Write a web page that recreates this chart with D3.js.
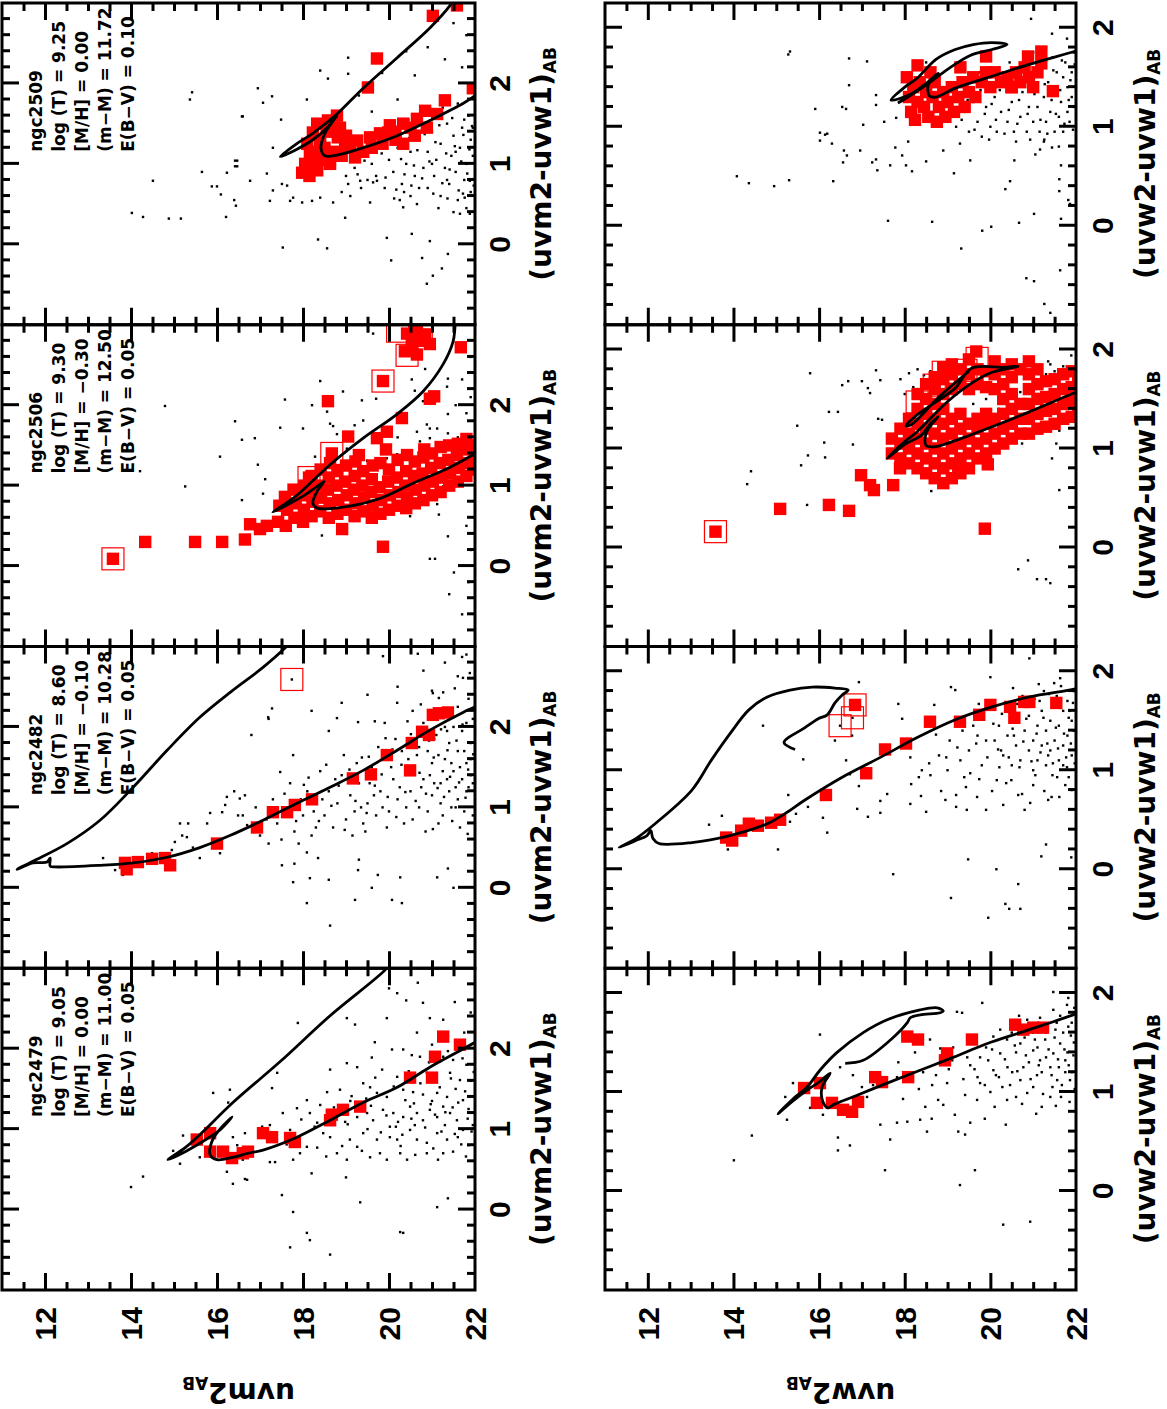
<!DOCTYPE html>
<html>
<head>
<meta charset="utf-8">
<script src="https://cdn.jsdelivr.net/npm/d3@7"></script>
<style>
  body { margin: 0; background: #fff; }
  svg { display: block; }
</style>
</head>
<body>
<div class="canvas"></div>
<script>
// cluster labels and fit parameters
const clusters = ["ngc2479", "ngc2482", "ngc2506", "ngc2509"];
const logT = ["9.05", "8.60", "9.30", "9.25"];
const metal = ["0.00", "\u22120.10", "\u22120.30", "0.00"];
const distMod = ["11.00", "10.28", "12.50", "11.72"];
const redden = ["0.05", "0.05", "0.05", "0.10"];

const magTicks = [12, 14, 16, 18, 20, 22];
const colTicks = [0, 1, 2];

// all points are [magnitude, colour]
// ---- uvm2 row ----
const iso_m2_2479 = [[22.1,2.12],[22.0,2.08],[20.95,1.77],[20.19,1.52],[19.40,1.33],[18.63,1.11],[17.86,0.90],[17.07,0.74],[16.72,0.70],[16.37,0.65],[16.0,0.62],[15.84,0.68],[15.9,0.87],[16.12,1.03],[16.35,1.15],[16.07,0.99],[15.77,0.88],[15.26,0.72],[14.86,0.62],[15.26,0.77],[15.60,0.93],[16.37,1.33],[17.47,1.84],[18.63,2.41],[19.91,2.98],[20.0,3.05]];
const memb_m2_2479 = [[15.53,0.87],[15.84,0.95],[15.84,0.72],[16.14,0.72],[16.35,0.64],[16.6,0.70],[16.72,0.72],[17.07,0.95],[17.28,0.90],[17.70,0.89],[17.81,0.84],[18.63,1.11],[18.67,1.18],[18.93,1.24],[19.33,1.28],[20.49,1.64],[21.0,1.64],[21.07,1.90],[21.26,2.15],[21.65,2.05]];
const open_m2_2479 = [];
const field_m2_2479 = [[20.67,2.82],[20.79,2.57],[20.19,2.69],[21.53,2.58],[21.26,2.36],[20.95,2.38],[19.95,2.38],[19.02,2.38],[17.88,2.32],[19.21,2.30],[20.65,2.20],[19.67,2.08],[20.07,1.99],[20.33,1.99],[20.53,1.92],[20.72,1.90],[19.60,1.89],[21.26,1.90],[21.49,1.86],[19.02,1.82],[19.26,1.77],[17.40,1.70],[18.63,1.74],[19.84,1.74],[20.19,1.65],[20.88,1.70],[21.42,1.70],[21.65,1.61],[17.28,1.51],[18.09,1.36],[18.56,1.46],[18.86,1.49],[19.40,1.57],[19.56,1.52],[19.72,1.45],[19.95,1.40],[20.33,1.49],[20.56,1.46],[20.79,1.43],[21.12,1.45],[21.35,1.40],[21.72,1.36],[17.53,1.20],[17.86,1.26],[18.16,1.20],[18.33,1.08],[18.79,1.15],[18.98,1.09],[19.26,1.15],[19.49,1.20],[19.63,1.11],[19.86,1.24],[20.02,1.03],[20.21,1.09],[20.33,1.15],[20.49,1.28],[20.65,1.20],[20.79,1.11],[20.95,1.24],[21.12,1.15],[21.26,1.28],[21.42,1.20],[21.58,1.11],[21.72,0.99],[17.05,1.03],[17.23,1.05],[17.70,0.99],[18.47,0.95],[18.63,0.90],[19.09,0.87],[19.40,0.95],[19.72,0.87],[20.02,0.90],[20.19,0.87],[20.49,0.99],[20.65,0.87],[20.88,0.83],[21.12,0.95],[21.35,0.87],[21.49,0.72],[17.23,0.59],[17.35,0.59],[17.77,0.62],[17.93,0.70],[18.09,0.78],[18.33,0.77],[18.79,0.70],[19.02,0.62],[19.26,0.78],[19.56,0.65],[19.79,0.70],[19.95,0.62],[20.26,0.70],[20.42,0.62],[20.88,0.70],[21.26,0.70],[17.51,0.18],[17.77,-0.03],[18.09,-0.29],[18.16,-0.38],[17.70,-0.47],[18.63,-0.56],[19.33,0.09],[20.26,-0.28],[20.33,-0.29],[21.12,0.03],[21.37,0.14],[16.70,0.37],[16.60,0.62],[15.91,1.45],[16.30,1.49],[16.26,1.33],[15.21,0.92],[14.98,0.73],[15.14,0.57],[15.60,0.65],[14.28,0.41],[14.00,0.28],[16.23,0.47],[16.37,0.32],[16.65,0.38],[16.37,0.90],[16.47,0.80],[16.65,0.95],[21.0,1.35],[21.55,1.5],[21.85,1.25],[21.9,1.6],[21.8,1.8],[21.95,1.05],[21.6,0.9],[20.6,1.05],[20.1,1.2],[19.5,1.0],[21.3,1.05],[21.85,0.8],[19.1,1.35],[18.4,1.3],[21.0,2.05],[21.75,2.2],[21.9,2.45],[20.4,2.6],[20.0,2.75],[18.2,0.45],[19.0,0.4],
  [19.13,1.41],[19.37,0.73],[19.58,1.29],[19.81,0.96],[19.94,1.17],[20.11,1.53],[20.27,0.79],[20.38,1.36],[20.52,1.13],[20.61,0.68],[20.73,1.57],[20.84,1.02],[20.97,1.31],[21.03,0.76],[21.18,1.52],[21.22,0.97],[21.31,1.21],[21.44,1.63],[21.53,0.94],[21.61,1.33],[21.68,0.81],[21.77,1.47],[21.83,1.13],[21.92,0.97],[21.97,1.71],[18.72,1.27],[18.91,0.79],[19.04,1.06],[18.27,1.03],[18.54,0.66],[17.96,1.12],[17.62,0.81],[20.46,1.72],[20.93,1.83],[21.37,1.97],[21.71,1.88],[19.68,1.64],[20.16,1.03],[21.07,1.18],[21.48,1.27],[21.88,1.41],[20.31,0.93],[19.47,1.38],[20.58,1.32],[21.14,0.62],[21.79,0.66]];

const iso_m2_2482 = [[22.1,2.28],[22.0,2.25],[21.72,2.18],[20.95,1.96],[20.19,1.71],[19.40,1.46],[18.63,1.25],[17.86,1.05],[17.07,0.84],[16.30,0.65],[15.60,0.50],[14.84,0.38],[14.05,0.31],[13.28,0.28],[12.23,0.26],[12.12,0.27],[12.12,0.37],[12.05,0.32],[11.72,0.31],[11.35,0.23],[11.72,0.33],[12.51,0.55],[13.28,0.84],[14.05,1.25],[14.84,1.71],[15.60,2.12],[16.33,2.44],[17.07,2.74],[17.58,2.98],[17.7,3.05]];
const memb_m2_2482 = [[13.86,0.31],[13.9,0.23],[14.16,0.32],[14.49,0.36],[14.79,0.37],[14.91,0.28],[16.0,0.55],[16.93,0.75],[17.30,0.94],[17.63,0.94],[17.81,1.03],[18.21,1.10],[19.16,1.36],[19.58,1.41],[19.95,1.65],[20.53,1.80],[20.49,1.46],[20.77,1.94],[20.93,1.90],[21.02,2.15],[21.16,2.17],[21.37,2.18]];
const open_m2_2482 = [[17.74,2.59]];
const field_m2_2482 = [[15.14,0.80],[15.33,0.80],[15.84,0.93],[16.12,0.94],[16.23,1.13],[16.19,1.03],[16.53,1.11],[16.65,1.15],[16.49,0.90],[16.70,0.78],[15.02,0.57],[15.60,0.37],[16.07,0.43],[13.35,0.37],[13.63,0.22],[13.81,0.16],[14.49,0.43],[14.95,0.47],[15.19,0.65],[15.30,0.63],[15.44,0.50],[15.77,0.80],[17.19,2.12],[17.28,2.23],[17.77,1.65],[17.47,1.44],[17.51,0.28],[18.09,-0.19],[18.16,0.12],[17.77,0.07],[18.63,-0.47],[19.21,-0.15],[19.28,0.22],[19.74,0.16],[20.07,-0.15],[20.26,0.13],[20.30,-0.19],[21.12,0.13],[21.37,0.24],[18.09,0.44],[18.35,0.37],[18.79,2.11],[19.28,2.06],[19.67,2.07],[20.19,2.30],[19.86,2.88],[20.67,2.91],[21.02,2.42],[21.26,2.43],[21.72,2.61],[21.60,2.63],[21.70,2.87],[17.74,2.59],[20.5,1.2],[20.6,1.5],[20.7,1.0],[20.8,1.35],[20.9,1.7],[21.0,1.15],[21.0,1.55],[21.1,1.9],[21.2,1.3],[21.2,1.05],[21.3,1.6],[21.4,1.8],[21.4,1.2],[21.5,1.45],[21.5,2.0],[21.6,1.1],[21.6,1.7],[21.7,1.35],[21.7,1.95],[21.8,1.55],[21.8,1.2],[21.9,1.8],[21.9,1.4],[21.95,2.1],[20.6,1.85],[20.8,2.05],[21.1,2.15],[21.3,2.0],[21.6,2.25],[21.85,2.35],[20.55,0.85],[20.9,0.95],[21.25,0.9],[21.55,1.0],[21.75,0.95],[20.65,1.65],[20.95,1.4],[21.15,1.65],[21.45,1.55],[21.65,1.5],[21.9,1.6],[20.75,1.25],[21.05,1.3],[21.35,1.35],[21.85,1.25],[21.45,1.0],[21.15,0.8],[20.85,0.7],[21.65,0.75],[21.95,0.9],[21.25,1.45],[21.55,1.25],[21.75,1.7],[21.95,1.3],[20.45,1.6],[20.7,1.75],[21.05,1.85],[21.35,1.95],[21.8,2.05],[18.5,0.9],[18.6,1.2],[18.7,0.75],[18.8,1.05],[18.9,1.4],[19.0,0.85],[19.1,1.15],[19.2,0.95],[19.3,1.3],[19.4,0.8],[19.5,1.05],[19.6,1.5],[19.7,0.9],[19.8,1.2],[19.9,1.6],[20.0,0.95],[20.1,1.35],[20.2,1.1],[20.3,1.7],[20.4,1.0],[20.45,1.45],[19.25,1.55],[19.75,1.75],[20.15,1.85],[18.95,1.65],[19.45,0.7],[19.95,0.75],[20.35,0.8],[18.4,1.45],[18.3,0.75],[19.15,0.65],[19.55,1.3],[19.85,1.0],[20.25,1.25],[18.75,1.35],[18.45,1.1],[19.65,1.15],[20.05,1.5],[19.35,1.0],[17.0,0.65],[17.2,0.55],[17.4,0.8],[17.5,0.6],[17.6,1.0],[17.8,0.7],[17.9,0.55],[18.0,0.9],[18.1,1.2],[18.2,0.65],[17.3,1.1],[17.7,1.3],[16.9,1.0],[16.6,0.9],[17.95,1.1],[18.25,0.95],[17.15,0.85],[16.8,1.9],[17.2,2.1],[18.2,2.2],[18.9,2.3],[19.5,2.4],[20.2,2.5],[20.8,2.7],[21.3,2.8],[21.8,2.9],[21.0,2.45],[17.8,0.3],[18.6,0.1],[19.3,0.35],[19.6,0.0],[21.5,0.0],[16.4,1.2],[18.6,1.95],[20.55,2.2],[19.9,2.05],
  [19.53,1.63],[19.67,1.27],[19.83,1.41],[19.97,1.13],[20.08,1.72],[20.17,0.88],[20.29,1.53],[20.38,1.19],[20.51,1.91],[20.62,1.08],[20.71,1.43],[20.86,1.17],[20.93,1.83],[21.04,1.62],[21.13,1.24],[21.21,1.97],[21.28,1.13],[21.36,1.71],[21.42,1.38],[21.49,2.13],[21.57,1.83],[21.63,1.31],[21.71,2.03],[21.78,1.12],[21.84,1.47],[21.91,2.21],[21.96,1.66],[18.13,1.37],[18.37,0.83],[18.54,1.53],[18.66,1.02],[18.83,1.27],[18.97,0.72],[19.08,1.47],[19.22,1.08],[19.37,1.62],[19.48,0.93],[17.57,1.17],[17.84,0.83],[18.02,1.28],[17.27,0.92],[20.74,2.28],[21.16,2.36],[21.53,2.48],[21.88,2.67],[20.43,2.07],[19.92,1.86],[21.02,0.73],[21.47,0.83],[21.83,0.67]];

const iso_m2_2506 = [[22.1,1.42],[21.95,1.38],[21.35,1.21],[20.56,1.03],[19.79,0.84],[19.02,0.74],[18.33,0.72],[18.23,0.78],[18.33,0.93],[18.49,1.05],[18.33,0.99],[18.0,0.87],[17.70,0.78],[17.30,0.67],[17.60,0.78],[17.86,0.88],[18.63,1.26],[19.40,1.59],[20.19,1.89],[20.79,2.17],[21.26,2.51],[21.49,2.79],[21.53,2.94],[21.54,3.05]];
const memb_m2_2506 = [[13.58,0.09],[14.33,0.30],[15.49,0.30],[16.12,0.30],[16.65,0.33],[16.77,0.52],[17.0,0.46],[17.16,0.50],[19.86,0.24],[18.91,0.46],[18.58,2.05],[19.86,2.30],[18.67,1.40],[18.14,1.10],[19.05,1.61],[19.30,1.38],[19.72,1.59],[19.95,1.67],[19.93,1.45],[20.30,1.84],[20.95,2.08],[21.05,2.11],[21.67,2.72],[20.42,2.89],[20.65,2.92],[20.84,2.88],[20.53,2.77],[20.77,2.80],[20.95,2.76],[20.37,2.67],[20.65,2.63],
  [17.42,0.55],[17.45,0.75],[17.6,0.5],[17.63,0.7],[17.58,0.86],[17.8,0.6],[17.83,0.78],[17.78,0.95],[18.0,0.55],[18.02,0.7],[17.98,0.88],[18.03,1.0],[18.2,0.62],[18.22,0.8],[18.18,0.95],[18.2,1.12],[18.4,0.68],[18.42,0.85],[18.38,1.0],[18.41,1.2],[18.6,0.6],[18.62,0.78],[18.58,0.95],[18.6,1.1],[18.63,1.28],[18.8,0.65],[18.82,0.82],[18.78,1.0],[18.8,1.18],[19.0,0.7],[19.02,0.88],[18.98,1.05],[19.0,1.25],[19.2,0.62],[19.22,0.78],[19.18,0.95],[19.2,1.12],[19.22,1.3],[19.4,0.68],[19.42,0.85],[19.38,1.0],[19.4,1.18],[19.6,0.6],[19.62,0.75],[19.58,0.92],[19.6,1.08],[19.62,1.25],[19.8,0.65],[19.82,0.82],[19.78,0.98],[19.8,1.28],[20.0,0.7],[20.02,0.88],[19.98,1.05],[20.0,1.2],[20.2,0.75],[20.22,0.92],[20.18,1.1],[20.2,1.32],[20.4,0.72],[20.42,0.85],[20.38,1.0],[20.4,1.18],[20.42,1.38],[20.6,0.78],[20.62,0.95],[20.58,1.12],[20.6,1.3],[20.8,0.82],[20.82,1.0],[20.78,1.15],[20.8,1.35],[20.82,1.45],[21.0,0.88],[21.02,1.05],[20.98,1.22],[21.0,1.4],[21.2,0.92],[21.22,1.1],[21.18,1.28],[21.2,1.48],[21.4,1.0],[21.42,1.15],[21.38,1.32],[21.4,1.5],[21.6,1.05],[21.62,1.22],[21.58,1.38],[21.6,1.52],[21.8,1.12],[21.82,1.28],[21.78,1.45],[21.8,1.58],[22.0,1.2],[22.0,1.35],[22.0,1.5]];
const open_m2_2506 = [[13.58,0.09],[19.86,2.30],[18.67,1.40],[18.14,1.10],[20.42,2.62],[20.2,2.92],[20.75,2.87]];
const field_m2_2506 = [[16.58,1.57],[16.88,1.59],[17.47,1.72],[17.58,2.07],[18.21,2.00],[18.56,1.92],[18.93,2.17],[19.37,2.06],[19.63,2.89],[19.70,2.08],[20.53,2.32],[20.60,2.18],[20.84,2.45],[20.79,2.05],[20.88,1.76],[20.95,1.71],[21.35,2.23],[21.37,2.33],[21.70,2.32],[21.37,1.89],[21.37,1.65],[21.42,1.55],[21.16,1.34],[21.26,0.99],[21.12,0.77],[21.16,0.64],[21.37,0.37],[20.95,0.09],[21.07,0.09],[21.51,-0.08],[21.40,-0.35],[20.49,0.62],[18.44,0.38],[16.58,0.82],[16.95,1.26],[17.12,1.08],[17.07,0.90],[18.0,1.71],[18.28,1.36],[18.63,1.77],[18.79,1.64],[18.70,1.74],[19.02,1.46],[19.40,1.81],[19.49,1.31],[19.63,1.30],[19.79,1.33],[19.95,1.34],[20.19,1.39],[20.33,1.43],[20.65,1.67],[20.72,1.55],[20.95,1.59],[21.12,1.71],[14.79,1.99],[14.21,1.18],[15.26,0.99],[16.07,1.36],[16.42,1.80],[21.8,1.9],[21.9,2.1],[21.6,1.6],[21.8,0.5],[21.9,0.2],[21.7,-0.6],[21.85,-0.2],[20.2,1.6],[19.2,1.75],[18.4,2.3],[21.55,2.0],[21.9,2.6]];

const iso_m2_2509 = [[22.1,1.9],[22.0,1.85],[21.72,1.75],[20.95,1.54],[20.19,1.35],[19.40,1.20],[18.79,1.11],[18.51,1.10],[18.42,1.19],[18.51,1.38],[18.79,1.60],[18.56,1.45],[18.23,1.30],[17.85,1.18],[17.47,1.09],[17.85,1.25],[18.23,1.38],[18.79,1.62],[19.40,1.94],[20.19,2.32],[20.95,2.69],[21.42,2.97],[21.5,3.05]];
const memb_m2_2509 = [[17.98,0.89],[18.05,1.00],[18.16,1.13],[18.33,1.00],[18.23,1.39],[18.33,1.50],[18.58,1.54],[18.79,1.60],[18.86,1.45],[18.81,1.33],[18.63,1.00],[18.33,0.92],[18.98,1.23],[19.21,1.08],[19.26,1.29],[19.56,1.33],[19.79,1.38],[19.98,1.39],[20.02,1.48],[20.33,1.50],[20.33,1.25],[20.65,1.56],[20.84,1.66],[20.88,1.45],[21.12,1.62],[21.30,1.79],[19.51,1.95],[19.72,2.31],[21.02,2.84],[21.58,2.97],[21.95,1.94],[18.5,1.2],[18.7,1.15],[18.9,1.1],[19.1,1.2],[19.4,1.15],[19.6,1.2],[19.0,1.35],[18.45,1.05],[18.15,0.85],[18.4,1.3],[19.85,1.25],[20.15,1.4],[20.5,1.45],[20.6,1.35],[20.15,1.3],[18.7,1.45],[18.55,1.4],[18.1,1.25],[18.3,1.15]];
const open_m2_2509 = [];
const field_m2_2509 = [[15.42,1.89],[15.37,1.80],[16.58,1.59],[14.51,0.79],[14.02,0.39],[14.28,0.34],[14.88,0.32],[15.16,0.32],[15.65,0.90],[16.23,0.89],[16.47,1.04],[16.42,0.97],[15.88,0.72],[16.0,0.72],[16.09,0.62],[16.40,0.55],[16.44,0.48],[16.21,0.34],[16.95,1.94],[17.28,1.84],[17.07,1.76],[16.60,1.59],[17.49,1.55],[18.09,1.80],[18.40,2.16],[18.58,2.06],[19.05,2.32],[19.05,2.12],[19.84,2.13],[17.30,1.20],[16.42,1.04],[16.47,0.97],[16.77,0.79],[17.16,0.88],[17.30,0.67],[17.23,0.54],[17.51,0.75],[17.63,0.73],[17.70,0.54],[17.77,0.58],[17.98,0.52],[18.21,0.54],[18.40,0.58],[18.70,0.52],[18.98,0.33],[17.53,-0.04],[18.35,0.06],[18.56,-0.05],[19.05,0.75],[19.33,0.79],[19.56,0.52],[19.72,0.79],[19.95,0.08],[20.05,-0.20],[20.33,0.46],[20.53,0.13],[20.77,-0.17],[20.95,0.04],[21.02,-0.39],[20.88,-0.49],[21.23,-0.30],[21.37,-0.12],[21.65,0.38],[21.88,0.38],[21.72,0.63],[21.88,0.79],[19.6,1.0],[19.7,0.85],[19.8,1.2],[19.9,0.7],[20.0,1.05],[20.1,0.9],[20.2,1.2],[20.3,0.75],[20.4,1.0],[20.5,0.6],[20.5,1.15],[20.6,0.85],[20.7,1.3],[20.8,0.95],[20.9,0.7],[20.9,1.15],[21.0,1.4],[21.05,0.85],[21.1,1.05],[21.2,0.6],[21.2,1.25],[21.3,0.95],[21.35,1.5],[21.4,0.75],[21.45,1.1],[21.5,1.35],[21.55,0.9],[21.6,0.55],[21.65,1.2],[21.7,1.45],[21.75,0.8],[21.8,1.0],[21.85,1.6],[21.9,0.65],[21.9,1.3],[21.95,1.1],[19.0,0.85],[19.2,0.95],[19.35,0.7],[19.5,0.8],[18.9,0.65],[19.1,0.6],[20.25,0.55],[20.65,0.5],[21.15,0.45],[21.5,0.4],[21.8,0.45],[20.0,1.4],[20.45,1.55],[20.85,1.6],[21.25,1.7],[21.6,1.75],[21.9,1.9],[21.7,2.2],[21.3,2.3],[20.9,2.45],[21.8,2.6],[21.5,2.75],[22.0,2.4],[20.6,2.1],[20.2,1.8],[19.6,1.65],[19.3,1.85],[20.4,2.4],[21.95,1.45],[21.75,1.55],[21.55,1.15],[21.35,0.8],[21.0,1.0],[20.7,0.7],[20.35,0.65],
  [19.83,1.13],[19.92,0.83],[20.07,1.27],[20.17,0.68],[20.28,1.06],[20.36,0.87],[20.47,1.32],[20.58,0.98],[20.66,1.17],[20.77,0.82],[20.83,1.37],[20.94,1.03],[21.03,0.63],[21.08,1.27],[21.17,1.48],[21.24,0.76],[21.33,1.13],[21.41,0.93],[21.47,1.57],[21.53,1.22],[21.62,0.67],[21.68,1.03],[21.73,1.36],[21.82,0.88],[21.87,1.18],[21.93,1.47],[21.97,0.73],[20.12,0.57],[20.52,0.73],[21.36,0.57],[21.76,0.58],[19.43,1.04],[19.63,0.77],[19.27,0.87]];

// ---- uvw2 row ----
const iso_w2_2479 = [[22.1,1.81],[22.0,1.79],[21.47,1.71],[20.70,1.60],[19.93,1.49],[19.13,1.35],[18.36,1.22],[17.59,1.09],[16.79,0.95],[16.33,0.87],[16.21,0.84],[16.09,0.90],[16.07,1.05],[16.26,1.19],[16.0,1.10],[15.72,1.02],[15.39,0.91],[15.04,0.78],[15.39,0.93],[15.72,1.05],[16.02,1.22],[16.42,1.40],[17.03,1.60],[17.59,1.73],[18.36,1.83],[18.76,1.85],[18.90,1.82],[18.83,1.80],[18.36,1.78],[18.13,1.75],[18.06,1.70],[17.73,1.55],[17.03,1.32],[16.61,1.29]];
const memb_w2_2479 = [[15.65,1.04],[15.95,0.89],[16.02,1.09],[16.30,0.89],[16.56,0.82],[16.77,0.80],[16.91,0.90],[17.31,1.15],[17.47,1.10],[18.08,1.15],[18.06,1.56],[18.31,1.53],[18.99,1.39],[18.94,1.32],[19.57,1.53],[20.58,1.68],[20.77,1.63],[21.0,1.65],[21.23,1.65]];
const open_w2_2479 = [];
const field_w2_2479 = [[16.44,0.54],[16.44,0.41],[16.72,0.46],[17.43,0.67],[17.66,0.52],[17.82,0.69],[17.54,0.21],[18.06,0.70],[18.36,0.72],[18.52,0.60],[18.90,0.87],[19.25,0.60],[19.41,0.57],[19.29,0.06],[19.64,0.21],[20.30,-0.34],[20.93,-0.31],[19.53,0.69],[19.81,1.90],[19.22,1.81],[19.34,1.80],[21.47,2.01],[21.82,1.95],[21.79,1.88],[16.49,1.25],[16.79,1.17],[17.00,1.05],[17.12,0.95],[17.26,1.07],[17.82,1.15],[17.85,1.30],[18.24,1.40],[18.43,1.20],[18.48,0.85],[18.64,1.07],[18.78,0.92],[18.99,1.09],[19.11,1.32],[19.13,1.45],[19.53,1.27],[19.41,0.97],[19.69,0.92],[19.76,1.09],[19.95,1.32],[20.07,1.22],[20.23,1.39],[20.28,1.05],[20.39,0.92],[20.51,1.20],[20.70,1.12],[20.77,1.25],[20.86,0.99],[21.0,1.42],[21.09,1.17],[21.16,1.32],[21.28,1.53],[21.40,1.25],[21.47,1.39],[21.56,1.12],[21.63,1.49],[21.75,1.32],[21.82,1.66],[21.86,1.12],[20.70,1.49],[20.39,1.53],[20.07,1.56],[19.76,1.35],[19.46,1.35],[18.83,1.44],[18.59,1.53],[20.53,1.66],[20.86,1.73],[21.16,1.75],[21.47,1.83],[21.0,1.60],[21.33,1.61],[21.1,1.45],[21.2,1.2],[21.3,1.35],[21.5,1.55],[21.6,1.25],[21.7,1.6],[21.8,1.4],[21.9,1.7],[21.45,1.05],[21.65,0.95],[21.9,1.2],[20.9,1.3],[20.6,1.4],[20.4,1.25],[20.2,1.15],[20.0,1.0],[21.0,1.05],[21.3,1.6],[21.55,1.7],[21.95,1.5],[20.8,1.55],[20.5,1.6],[21.75,1.2],[21.4,0.95],[20.6,0.95],[20.1,0.85],[19.7,1.15],[19.9,1.45],[21.85,0.9],[21.2,0.85],[16.02,1.58],[15.39,1.09],[15.21,0.95],[15.25,0.72],[15.79,0.84],[16.09,0.77],[14.43,0.56],[14.01,0.31],
  [19.63,1.23],[19.87,1.07],[20.04,1.43],[20.13,1.17],[20.34,1.33],[20.46,1.07],[20.57,1.47],[20.63,1.21],[20.74,0.88],[20.83,1.37],[20.94,1.13],[21.04,1.53],[21.13,1.27],[21.23,0.98],[21.36,1.43],[21.43,1.17],[21.52,1.63],[21.58,1.33],[21.67,1.07],[21.73,1.43],[21.83,1.27],[21.88,1.57],[21.94,1.37],[21.97,1.03],[20.23,1.63],[20.67,1.77],[21.12,1.68],[21.63,1.77],[21.96,1.85],[19.37,1.13],[19.03,1.23],[18.73,1.17],[18.33,1.03],[17.96,0.93],[18.63,0.73],[19.17,0.77],[19.87,0.73],[20.36,0.67],[21.07,0.78],[21.53,0.86]];

const iso_w2_2482 = [[22.1,1.84],[21.96,1.82],[20.91,1.74],[20.04,1.64],[19.18,1.51],[18.29,1.33],[17.43,1.13],[16.54,0.93],[15.67,0.70],[15.23,0.57],[14.79,0.46],[13.92,0.34],[13.03,0.27],[12.26,0.26],[12.12,0.31],[12.07,0.39],[11.98,0.34],[11.72,0.29],[11.33,0.22],[11.72,0.31],[12.17,0.46],[13.03,0.80],[13.48,1.10],[13.92,1.37],[14.36,1.61],[14.79,1.74],[15.32,1.81],[15.84,1.84],[16.37,1.83],[16.68,1.81],[16.54,1.76],[16.37,1.68],[16.19,1.56],[15.98,1.52],[15.67,1.43],[15.18,1.28],[15.44,1.21]];
const memb_w2_2482 = [[13.83,0.32],[13.97,0.29],[14.18,0.39],[14.36,0.46],[14.57,0.44],[14.88,0.47],[15.09,0.50],[16.16,0.75],[17.10,0.97],[17.54,1.21],[18.03,1.27],[18.59,1.49],[19.29,1.49],[19.74,1.56],[20.0,1.66],[20.46,1.64],[20.56,1.53],[20.79,1.69],[20.91,1.69],[21.54,1.68],[16.84,1.66]];
const open_w2_2482 = [[16.84,1.66],[16.78,1.53],[16.49,1.45]];
const field_w2_2482 = [[14.69,1.45],[15.63,1.11],[16.37,1.30],[16.93,1.89],[16.77,1.35],[13.43,0.45],[13.73,0.54],[13.87,0.20],[15.04,0.20],[15.32,0.48],[15.74,0.63],[16.09,0.52],[16.19,0.37],[15.28,0.75],[15.46,0.56],[16.63,1.10],[16.72,0.96],[16.93,0.84],[16.89,0.61],[17.14,0.53],[17.43,0.69],[17.43,0.57],[17.59,0.76],[17.73,-0.05],[17.85,1.67],[17.94,1.52],[18.13,1.13],[18.15,0.86],[18.13,0.66],[18.38,0.74],[18.50,0.58],[18.69,1.66],[18.73,1.36],[19.08,1.84],[19.18,1.81],[19.08,-0.29],[19.48,0.10],[20.14,0.0],[19.95,-0.49],[20.35,-0.35],[20.65,-0.15],[20.44,-0.40],[20.70,-0.40],[21.30,0.25],[21.19,0.13],[21.89,0.12],[20.0,1.94],[20.91,2.13],[21.49,1.88],[19.20,0.63],[18.85,0.79],[19.39,0.93],[19.74,0.91],[19.69,0.73],[20.04,0.79],[20.21,1.03],[20.49,0.90],[20.74,0.76],[21.0,1.0],[21.26,0.79],[21.56,0.93],[21.61,0.73],[21.79,1.03],[16.49,1.45],[16.78,1.53],[20.1,1.3],[20.2,1.45],[20.3,1.15],[20.4,1.35],[20.5,1.05],[20.6,1.25],[20.6,1.5],[20.7,1.1],[20.8,1.4],[20.9,1.2],[20.9,1.55],[21.0,1.3],[21.1,1.1],[21.1,1.45],[21.2,1.25],[21.2,1.6],[21.3,1.05],[21.3,1.4],[21.4,1.2],[21.4,1.5],[21.5,1.3],[21.5,1.65],[21.6,1.1],[21.6,1.45],[21.7,1.25],[21.7,1.6],[21.8,1.35],[21.8,1.7],[21.9,1.15],[21.9,1.5],[21.95,1.8],[20.35,1.6],[20.75,1.75],[21.25,1.8],[21.65,1.85],[19.5,1.2],[19.6,1.45],[19.8,1.05],[19.9,1.3],[19.3,1.1],[19.0,1.0],[18.8,1.15],[18.6,0.95],[19.2,0.75],[19.45,0.6],[19.9,0.6],[20.3,0.65],[20.8,0.6],[21.0,0.85],[21.45,0.95],[21.75,0.85],[21.15,1.7],[21.55,1.75],[21.85,1.6],[21.35,1.15],[21.05,0.95],[21.7,1.05],[21.95,1.4],[20.55,1.35],[20.25,1.2],[19.7,1.35],[19.35,1.4],[19.05,1.3],[18.4,1.0],[18.95,0.7],[20.15,0.9],[20.65,0.75],[21.35,0.7],[21.9,0.8],
  [20.07,1.47],[20.18,1.21],[20.27,1.57],[20.43,1.13],[20.52,1.42],[20.63,1.67],[20.68,1.03],[20.77,1.29],[20.84,1.52],[20.96,1.09],[21.03,1.72],[21.08,1.37],[21.17,1.18],[21.24,1.53],[21.33,1.27],[21.37,1.77],[21.46,1.07],[21.53,1.43],[21.58,1.22],[21.64,1.63],[21.72,1.37],[21.77,1.13],[21.83,1.53],[21.88,1.27],[21.93,1.68],[21.97,1.07],[19.53,0.97],[19.67,1.27],[19.83,1.53],[19.93,1.13],[19.23,1.23],[18.97,1.13],[18.57,1.07],[18.33,0.93],[19.43,0.83],[20.37,0.87],[20.93,0.67],[21.43,0.73],[21.83,0.93],[19.73,1.67],[20.53,1.83],[21.13,1.87],[21.63,1.93]];

const iso_w2_2506 = [[22.1,1.58],[21.96,1.56],[20.91,1.37],[20.04,1.22],[19.18,1.08],[18.73,1.02],[18.50,1.03],[18.48,1.12],[18.55,1.20],[18.78,1.32],[18.6,1.25],[18.38,1.13],[18.03,1.05],[17.59,0.90],[17.95,1.05],[18.29,1.17],[18.99,1.47],[19.60,1.67],[20.04,1.77],[20.65,1.83],[20.3,1.82],[19.56,1.81],[19.18,1.61],[18.73,1.47],[18.29,1.34],[18.03,1.23],[18.15,1.24],[18.8,1.52],[19.5,1.78]];
const memb_w2_2506 = [[13.58,0.16],[15.09,0.39],[16.23,0.43],[16.70,0.37],[16.98,0.73],[17.19,0.63],[17.28,0.58],[17.73,0.63],[17.89,0.80],[19.87,0.19],[19.94,0.84],[19.25,0.78],[19.67,1.98],
  [17.7,0.95],[17.7,1.1],[17.9,0.9],[17.9,1.05],[17.9,1.2],[18.1,0.85],[18.1,1.0],[18.1,1.15],[18.1,1.3],[18.3,0.8],[18.3,0.95],[18.3,1.1],[18.3,1.25],[18.3,1.4],[18.3,1.55],[18.5,0.75],[18.5,0.9],[18.5,1.05],[18.5,1.2],[18.5,1.35],[18.5,1.5],[18.5,1.65],[18.7,0.7],[18.7,0.85],[18.7,1.0],[18.7,1.15],[18.7,1.3],[18.7,1.45],[18.7,1.6],[18.7,1.72],[18.9,0.65],[18.9,0.8],[18.9,0.95],[18.9,1.1],[18.9,1.25],[18.9,1.4],[18.9,1.55],[18.9,1.7],[18.9,1.82],[19.1,0.7],[19.1,0.85],[19.1,1.0],[19.1,1.15],[19.1,1.3],[19.1,1.6],[19.1,1.75],[19.1,1.85],[19.3,0.75],[19.3,0.9],[19.3,1.05],[19.3,1.2],[19.3,1.35],[19.3,1.65],[19.3,1.8],[19.5,0.8],[19.5,0.95],[19.5,1.1],[19.5,1.25],[19.5,1.6],[19.5,1.75],[19.5,1.9],[19.7,0.9],[19.7,1.05],[19.7,1.2],[19.7,1.3],[19.7,1.65],[19.7,1.8],[19.9,0.95],[19.9,1.1],[19.9,1.25],[19.9,1.35],[19.9,1.62],[19.9,1.78],[20.1,1.0],[20.1,1.15],[20.1,1.3],[20.1,1.6],[20.1,1.75],[20.1,1.88],[20.3,1.05],[20.3,1.2],[20.3,1.35],[20.3,1.5],[20.3,1.65],[20.3,1.8],[20.5,1.1],[20.5,1.25],[20.5,1.4],[20.5,1.55],[20.5,1.72],[20.5,1.85],[20.7,1.15],[20.7,1.3],[20.7,1.45],[20.7,1.8],[20.9,1.15],[20.9,1.3],[20.9,1.45],[20.9,1.6],[20.9,1.75],[20.9,1.88],[21.1,1.2],[21.1,1.35],[21.1,1.5],[21.1,1.65],[21.1,1.8],[21.3,1.22],[21.3,1.38],[21.3,1.52],[21.3,1.68],[21.5,1.25],[21.5,1.4],[21.5,1.55],[21.5,1.7],[21.7,1.3],[21.7,1.45],[21.7,1.6],[21.7,1.75],[21.9,1.32],[21.9,1.48],[21.9,1.62],[21.9,1.78],[22.05,1.4],[22.05,1.55],[22.05,1.7]];
const open_w2_2506 = [[13.58,0.16],[18.29,1.47],[18.69,1.64],[18.90,1.77],[19.43,1.79],[19.69,1.91]];
const field_w2_2506 = [[15.79,1.76],[16.54,1.64],[16.68,1.68],[17.0,1.68],[17.33,1.79],[17.43,1.69],[17.19,1.56],[17.14,1.61],[16.23,1.37],[16.44,1.37],[15.49,1.23],[17.38,1.30],[17.47,1.29],[16.12,1.06],[15.74,0.93],[16.14,0.91],[16.79,1.04],[15.58,0.83],[14.41,0.77],[14.32,0.64],[15.72,0.43],[18.62,0.57],[19.08,0.71],[19.20,0.71],[20.65,-0.22],[20.88,-0.13],[21.09,-0.32],[21.30,-0.32],[21.40,-0.36],[21.61,0.58],[21.44,0.90],[21.54,1.05],[21.61,1.18],[21.89,1.94],[20.74,1.05],[20.14,0.97],[18.1,1.76],[18.3,1.8],[18.45,1.74],[18.6,1.78],[18.75,1.72],[17.9,1.7],[18.0,1.55],[18.2,1.62],[21.2,1.82],[21.3,1.75],[21.4,1.85],[21.5,1.78],[21.6,1.7],[21.7,1.83],[21.35,1.88],[19.6,1.45],[19.9,1.5],[20.2,1.4],[20.3,1.35],[20.9,1.25],[20.4,1.6],[21.1,1.55],[20.70,1.57]];

const iso_w2_2509 = [[22.1,1.78],[21.96,1.76],[20.91,1.63],[20.04,1.51],[19.18,1.39],[18.73,1.30],[18.58,1.31],[18.55,1.42],[18.78,1.54],[18.45,1.42],[18.1,1.32],[17.68,1.27],[18.0,1.40],[18.29,1.49],[18.73,1.68],[19.18,1.78],[19.60,1.83],[20.04,1.85],[20.39,1.83],[20.04,1.78],[19.53,1.72],[19.0,1.58],[18.5,1.42],[18.0,1.28],[17.84,1.24]];
const memb_w2_2509 = [[18.05,1.5],[18.1,1.3],[18.15,1.15],[18.2,1.4],[18.24,1.07],[18.3,1.25],[18.35,1.45],[18.45,1.2],[18.5,1.35],[18.55,1.1],[18.65,1.3],[18.7,1.45],[18.75,1.05],[18.8,1.2],[18.9,1.35],[18.95,1.1],[19.0,1.25],[19.1,1.4],[19.15,1.15],[19.25,1.3],[19.35,1.45],[19.4,1.2],[19.5,1.35],[19.6,1.5],[19.65,1.3],[19.8,1.45],[19.9,1.55],[19.9,1.71],[20.0,1.4],[20.1,1.55],[20.25,1.45],[20.4,1.5],[20.5,1.4],[20.6,1.55],[20.7,1.45],[20.8,1.6],[20.9,1.5],[20.88,1.71],[21.0,1.4],[21.1,1.55],[21.19,1.64],[21.19,1.76],[20.49,1.40],[21.46,1.36],[18.6,1.55],[18.3,1.62],[19.3,1.6]];
const open_w2_2509 = [];
const field_w2_2509 = [[15.28,1.73],[15.32,1.76],[16.70,1.69],[17.12,1.66],[16.70,1.42],[16.54,1.20],[16.63,1.18],[15.91,1.18],[17.33,1.32],[17.33,1.22],[17.03,1.02],[17.52,1.05],[17.80,1.09],[16.19,0.93],[16.02,0.86],[16.30,0.83],[16.58,0.76],[16.65,0.71],[16.96,0.76],[16.56,0.64],[17.24,0.64],[17.33,0.67],[17.36,0.56],[17.66,0.61],[17.78,0.79],[17.94,0.71],[18.03,0.61],[18.17,0.55],[18.08,0.85],[18.50,0.65],[18.90,0.76],[19.15,0.53],[19.53,0.66],[19.29,0.83],[14.08,0.50],[14.36,0.43],[14.95,0.40],[15.30,0.46],[16.33,0.45],[16.02,0.94],[16.14,0.92],[17.61,0.05],[18.64,0.04],[19.81,-0.05],[20.02,-0.01],[20.67,0.03],[19.32,-0.23],[20.35,0.37],[20.46,0.45],[20.56,0.66],[21.02,0.12],[20.84,-0.53],[21.02,-0.56],[21.26,-0.79],[21.40,-0.88],[21.63,-0.45],[21.65,0.07],[21.61,0.35],[21.61,0.47],[21.65,0.61],[21.82,0.26],[21.86,0.22],[20.95,2.09],[21.44,1.94],[21.79,1.89],[21.26,0.87],[21.44,0.79],[21.05,0.72],[21.16,0.77],[19.2,1.0],[19.4,1.15],[19.5,0.95],[19.6,1.25],[19.7,1.05],[19.8,0.9],[19.9,1.2],[20.0,1.0],[20.1,1.3],[20.15,0.95],[20.25,1.15],[20.3,1.45],[20.4,1.05],[20.5,1.25],[20.55,0.95],[20.6,1.5],[20.7,1.1],[20.75,1.35],[20.85,0.95],[20.9,1.2],[20.95,1.55],[21.0,1.05],[21.05,1.4],[21.1,1.2],[21.15,0.95],[21.2,1.6],[21.25,1.3],[21.3,1.05],[21.35,1.45],[21.4,1.15],[21.45,1.7],[21.5,0.95],[21.5,1.35],[21.55,1.55],[21.6,1.1],[21.65,1.25],[21.7,1.5],[21.7,0.95],[21.75,1.65],[21.8,1.15],[21.8,1.4],[21.85,1.05],[21.9,1.3],[21.9,1.55],[21.95,1.75],[21.95,1.2],[20.2,1.6],[20.45,1.65],[20.8,1.7],[21.0,1.75],[21.3,1.8],[20.6,0.85],[21.25,0.85],[21.6,0.8],[19.9,1.45],[19.75,1.55],[19.55,1.45],[19.35,1.35],[19.1,1.3],[18.9,1.4],[18.7,1.55],[18.5,1.65],[18.3,1.6],[18.2,1.45],[18.4,1.35],
  [20.03,1.23],[20.13,1.07],[20.22,1.37],[20.33,0.93],[20.43,1.17],[20.53,1.53],[20.63,1.03],[20.67,1.27],[20.78,1.47],[20.87,1.13],[20.93,0.87],[21.03,1.33],[21.13,1.63],[21.17,1.07],[21.27,1.43],[21.33,0.93],[21.43,1.27],[21.47,1.57],[21.53,1.13],[21.63,1.37],[21.67,1.67],[21.73,1.03],[21.83,1.27],[21.87,1.47],[21.93,0.97],[21.97,1.63],[19.33,1.07],[19.47,1.27],[19.63,0.97],[19.77,1.37],[19.87,1.13],[19.97,0.87]];

// ---- layout (drawn in the unrotated frame, then turned a quarter turn) ----
const FW = 1409;            // unrotated width  (= page height)
const colLeft = 119, colW = 321.75;
const rows = [
  { band: "uvm2", colDomain: [-1, 3], top: 2, bottom: 475, labelY: 510, titleY: 551, annotate: true,
    panels: [
      { iso: iso_m2_2479, memb: memb_m2_2479, open: open_m2_2479, field: field_m2_2479 },
      { iso: iso_m2_2482, memb: memb_m2_2482, open: open_m2_2482, field: field_m2_2482 },
      { iso: iso_m2_2506, memb: memb_m2_2506, open: open_m2_2506, field: field_m2_2506 },
      { iso: iso_m2_2509, memb: memb_m2_2509, open: open_m2_2509, field: field_m2_2509 } ] },
  { band: "uvw2", colDomain: [-1, 2.25], top: 605, bottom: 1076, labelY: 1113, titleY: 1155, annotate: false,
    panels: [
      { iso: iso_w2_2479, memb: memb_w2_2479, open: open_w2_2479, field: field_w2_2479 },
      { iso: iso_w2_2482, memb: memb_w2_2482, open: open_w2_2482, field: field_w2_2482 },
      { iso: iso_w2_2506, memb: memb_w2_2506, open: open_w2_2506, field: field_w2_2506 },
      { iso: iso_w2_2509, memb: memb_w2_2509, open: open_w2_2509, field: field_w2_2509 } ] }
];

const labelFont = "'Liberation Sans', Arial, Helvetica, sans-serif";
const titleFont = "'DejaVu Sans', 'Liberation Sans', sans-serif";

const svg = d3.select('.canvas')
  .append('svg')
  .attr('width', 1167)
  .attr('height', 1409);
svg.append('rect').attr('width', 1167).attr('height', 1409).attr('fill', '#fff');

const fig = svg.append('g').attr('transform', `translate(0,${FW}) rotate(-90)`);
const defs = svg.append('defs');

function styleTicks(g) {
  g.select('.domain').remove();
  g.selectAll('.tick line').attr('stroke', '#000').attr('stroke-width', 3);
}

rows.forEach((row, r) => {
  const y = d3.scaleLinear().domain([11, 22]).range([row.top, row.bottom]);

  const nLo = Math.round(row.colDomain[0] * 5) + 1, nHi = Math.round(row.colDomain[1] * 5);
  const colMinor = d3.range(nLo, nHi).filter(i => i % 5 !== 0).map(i => i / 5);
  const magMinor = d3.range(23, 44).map(i => i / 2).filter(v => v % 2 !== 0);
  const magMajor = magTicks.filter(v => v < 22);

  row.panels.forEach((p, c) => {
    const x0 = colLeft + c * colW, x1 = x0 + colW;
    const x = d3.scaleLinear().domain(row.colDomain).range([x0, x1]);
    const id = `clip${r}${c}`;
    defs.append('clipPath').attr('id', id)
      .append('rect').attr('x', x0).attr('y', row.top).attr('width', colW).attr('height', row.bottom - row.top);

    const g = fig.append('g');
    const plot = g.append('g').attr('clip-path', `url(#${id})`);

    // field stars
    plot.selectAll('.field').data(p.field).enter().append('rect')
      .attr('class', 'field')
      .attr('x', d => x(d[1]) - 1.2).attr('y', d => y(d[0]) - 1.2)
      .attr('width', 2.4).attr('height', 2.4)
      .attr('fill', '#000');

    // members
    plot.selectAll('.memb').data(p.memb).enter().append('rect')
      .attr('class', 'memb')
      .attr('x', d => x(d[1]) - 6.2).attr('y', d => y(d[0]) - 6.2)
      .attr('width', 12.4).attr('height', 12.4)
      .attr('fill', '#ff0000');

    // open boxes
    plot.selectAll('.openb').data(p.open).enter().append('rect')
      .attr('class', 'openb')
      .attr('x', d => x(d[1]) - 11).attr('y', d => y(d[0]) - 11)
      .attr('width', 22).attr('height', 22)
      .attr('fill', 'none').attr('stroke', '#ff0000').attr('stroke-width', 1.2);

    // isochrone
    plot.append('path')
      .datum(p.iso)
      .attr('fill', 'none')
      .attr('stroke', '#000')
      .attr('stroke-width', 2.8)
      .attr('stroke-linejoin', 'round')
      .attr('d', d3.line().x(d => x(d[1])).y(d => y(d[0])).curve(d3.curveCatmullRom.alpha(0.5)));

    // frame
    g.append('rect')
      .attr('x', x0).attr('y', row.top).attr('width', colW).attr('height', row.bottom - row.top)
      .attr('fill', 'none').attr('stroke', '#000').attr('stroke-width', 3);

    // ticks on all four sides, pointing inwards
    [[colMinor, 8], [colTicks, 17]].forEach(([vals, len]) => {
      g.append('g').attr('transform', `translate(0,${row.bottom})`)
        .call(d3.axisBottom(x).tickValues(vals).tickSize(-len).tickFormat('')).call(styleTicks);
      g.append('g').attr('transform', `translate(0,${row.top})`)
        .call(d3.axisTop(x).tickValues(vals).tickSize(-len).tickFormat('')).call(styleTicks);
    });
    [[magMinor, 8], [magMajor, 17]].forEach(([vals, len]) => {
      g.append('g').attr('transform', `translate(${x0},0)`)
        .call(d3.axisLeft(y).tickValues(vals).tickSize(-len).tickFormat('')).call(styleTicks);
      g.append('g').attr('transform', `translate(${x1},0)`)
        .call(d3.axisRight(y).tickValues(vals).tickSize(-len).tickFormat('')).call(styleTicks);
    });

    // colour tick labels
    g.selectAll('.clab').data(colTicks).enter().append('text')
      .attr('class', 'clab')
      .attr('x', d => x(d)).attr('y', row.labelY)
      .attr('text-anchor', 'middle')
      .attr('font-family', labelFont).attr('font-weight', 'bold').attr('font-size', 30)
      .text(d => d);

    // colour axis title
    const t = g.append('text')
      .attr('x', (x0 + x1) / 2).attr('y', row.titleY)
      .attr('text-anchor', 'middle')
      .attr('font-family', titleFont).attr('font-weight', 'bold').attr('font-size', 28);
    t.append('tspan').text(`(${row.band}-uvw1)`);
    t.append('tspan').attr('font-size', 17).attr('dy', 5).text('AB');

    // cluster annotation
    if (row.annotate) {
      const lines = [clusters[c], `log (T) = ${logT[c]}`, `[M/H] = ${metal[c]}`,
                     `(m\u2212M) = ${distMod[c]}`, `E(B\u2212V) = ${redden[c]}`];
      g.selectAll('.ann').data(lines).enter().append('text')
        .attr('class', 'ann')
        .attr('x', x0 + 173).attr('y', (d, i) => 42 + i * 23)
        .attr('font-family', "'DejaVu Sans', sans-serif").attr('font-weight', 'bold').attr('font-size', 17)
        .text(d => d);
    }

    // magnitude labels on the first column only
    if (c === 0) {
      g.selectAll('.mlab').data(magTicks).enter().append('text')
        .attr('class', 'mlab')
        .attr('x', x0 - 17).attr('y', d => y(d))
        .attr('dy', '0.36em')
        .attr('text-anchor', 'end')
        .attr('font-family', labelFont).attr('font-weight', 'bold').attr('font-size', 30)
        .text(d => d);

      const cy = (row.top + row.bottom) / 2;
      const yt = g.append('text')
        .attr('transform', `translate(26,${cy}) rotate(-90)`)
        .attr('text-anchor', 'middle')
        .attr('font-family', titleFont).attr('font-weight', 'bold').attr('font-size', 28);
      yt.append('tspan').text(row.band);
      yt.append('tspan').attr('font-size', 17).attr('dy', 6).text('AB');
    }
  });
});
</script>
</body>
</html>
